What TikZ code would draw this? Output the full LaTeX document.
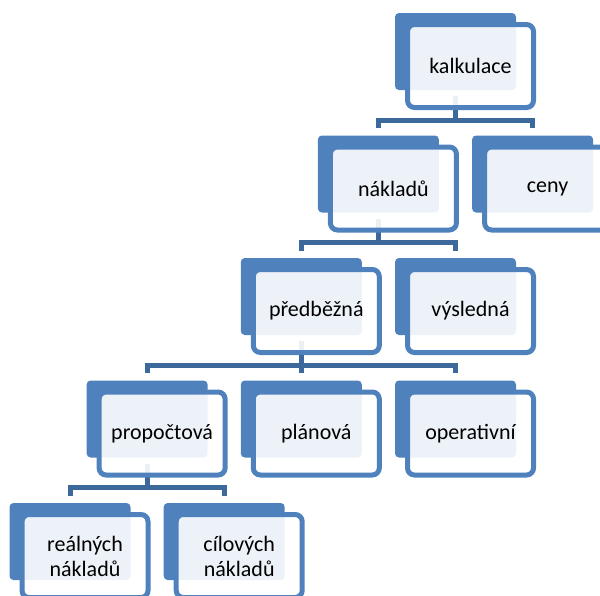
\documentclass[tikz,border=0pt]{standalone}
\usepackage{fontspec}
\setmainfont{Carlito}
\definecolor{acc}{RGB}{79,129,189}
\definecolor{conncol}{RGB}{60,104,155}
\tikzset{
  backbox/.style={rectangle, fill=acc, rounded corners=4pt, minimum width=121pt, minimum height=77pt, inner sep=0pt},
  frontbox/.style={rectangle, draw=acc, line width=5pt, fill=white, fill opacity=0.9, text opacity=1, rounded corners=7pt, minimum width=126pt, minimum height=83pt, inner sep=0pt, font=\fontsize{22}{25}\selectfont, align=center},
  conn/.style={draw=conncol, line width=5pt},
}
\begin{document}
\begin{tikzpicture}[x=1pt,y=1pt]
\useasboundingbox (0,0) rectangle (600,-595);
\clip (0,0) rectangle (600,-595);
% back boxes
\node[backbox] (b1) at (455.5,-51.5) {};
\node[backbox] (b2) at (378.4,-174) {};
\node[backbox] (b3) at (532.6,-174) {};
\node[backbox] (b4) at (301.3,-296.5) {};
\node[backbox] (b5) at (455.5,-296.5) {};
\node[backbox] (b6) at (147.1,-419) {};
\node[backbox] (b7) at (301.3,-419) {};
\node[backbox] (b8) at (455.5,-419) {};
\node[backbox] (b9) at (70,-541.5) {};
\node[backbox] (b10) at (224.2,-541.5) {};
% connectors
\foreach \p/\c in {b1/b2,b1/b3,b2/b4,b2/b5,b4/b6,b4/b7,b4/b8,b6/b9,b6/b10}{
  \draw[conn] ([yshift=-6pt]\p.south) -- ++(0,-24pt) -| ([yshift=7pt]\c.north);
}
% front boxes
\node[frontbox] (f1) at (470.5,-66) {kalkulace};
\node[frontbox] (f2) at (393.4,-188.5) {nákladů};
\node[frontbox] (f3) at (547.6,-188.5) {ceny};
\node[frontbox] (f4) at (316.3,-311) {předběžná};
\node[frontbox] (f5) at (470.5,-311) {výsledná};
\node[frontbox] (f6) at (162.1,-433.5) {propočtová};
\node[frontbox] (f7) at (316.3,-433.5) {plánová};
\node[frontbox] (f8) at (470.5,-433.5) {operativní};
\node[frontbox] (f9) at (85,-556) {reálných\\nákladů};
\node[frontbox] (f10) at (239.2,-556) {cílových\\nákladů};
\end{tikzpicture}
\end{document}
